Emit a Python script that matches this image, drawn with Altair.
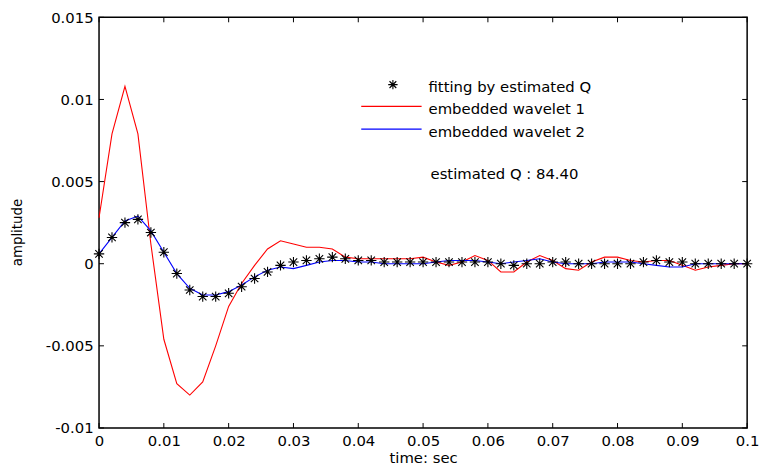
import altair as alt
import pandas as pd

# ---- data ----
time_s = [0.000, 0.002, 0.004, 0.006, 0.008, 0.010, 0.012, 0.014, 0.016, 0.018,
          0.020, 0.022, 0.024, 0.026, 0.028, 0.030, 0.032, 0.034, 0.036, 0.038,
          0.040, 0.042, 0.044, 0.046, 0.048, 0.050, 0.052, 0.054, 0.056, 0.058,
          0.060, 0.062, 0.064, 0.066, 0.068, 0.070, 0.072, 0.074, 0.076, 0.078,
          0.080, 0.082, 0.084, 0.086, 0.088, 0.090, 0.092, 0.094, 0.096, 0.098,
          0.100]

wavelet1 = [0.0028, 0.0079, 0.0108, 0.0079, 0.0012, -0.0046, -0.0073, -0.0080, -0.0072, -0.0050,
            -0.0026, -0.0012, -0.0001, 0.0009, 0.0014, 0.0012, 0.0010, 0.0010, 0.0009, 0.0004,
            0.0003, 0.0003, 0.0003, 0.0003, 0.0003, 0.0004, 0.0001, -0.0001, 0.0001, 0.0005,
            0.0002, -0.0005, -0.0005, 0.0001, 0.0005, 0.0002, -0.0003, -0.0004, 0.0001, 0.0004,
            0.0004, 0.0002, 0.0001, 0.0002, 0.0002, -0.0001, -0.0004, -0.0002, -0.0001, 0.0000,
            0.0000]

wavelet2 = [0.0006, 0.0016, 0.0026, 0.0029, 0.0020, 0.0007, -0.0006, -0.0015, -0.0019, -0.0019,
            -0.0017, -0.0013, -0.0008, -0.0004, -0.0002, -0.0003, -0.0001, 0.0001, 0.0002, 0.0002,
            0.0001, 0.0001, 0.0000, 0.0000, 0.0000, 0.0000, 0.0001, 0.0002, 0.0002, 0.0002,
            0.0001, 0.0000, 0.0001, 0.0002, 0.0003, 0.0001, 0.0000, 0.0000, 0.0000, 0.0001,
            0.0001, 0.0001, 0.0000, -0.0001, -0.0002, -0.0002, 0.0000, 0.0000, 0.0000, 0.0000,
            0.0000]

fitting = [0.0006, 0.0016, 0.0025, 0.0027, 0.0019, 0.0007, -0.0006, -0.0016, -0.0020, -0.0020,
           -0.0018, -0.0014, -0.0009, -0.0005, -0.0001, 0.0001, 0.0002, 0.0003, 0.0004, 0.0003,
           0.0002, 0.0002, 0.0001, 0.0001, 0.0001, 0.0001, 0.0001, 0.0001, 0.0001, 0.0001,
           0.0001, 0.0000, -0.0001, 0.0000, 0.0000, 0.0001, 0.0001, 0.0000, 0.0000, 0.0000,
           0.0000, 0.0000, 0.0001, 0.0002, 0.0001, 0.0001, 0.0000, 0.0000, 0.0000, 0.0000,
           0.0000]

x_ticks = [0, 0.01, 0.02, 0.03, 0.04, 0.05, 0.06, 0.07, 0.08, 0.09, 0.1]
y_ticks = [-0.01, -0.005, 0, 0.005, 0.01, 0.015]

legend_labels = ["fitting by estimated Q", "embedded wavelet 1", "embedded wavelet 2"]
q_text = "estimated Q : 84.40"

# ---- layout ----
W, H = 655, 415
FONT = "DejaVu Sans"
STAR = "M-1,0L1,0M0,-1L0,1M-0.72,-0.72L0.72,0.72M-0.72,0.72L0.72,-0.72"

df = pd.DataFrame({"t": time_s, "w1": wavelet1, "w2": wavelet2, "fit": fitting})
xs = alt.Scale(domain=[0, 0.1], nice=False, zero=False)
ys = alt.Scale(domain=[-0.01, 0.015], nice=False, zero=False)

base = alt.Chart(df)

red = base.mark_line(color="#ff0000", strokeWidth=1.1).encode(
    x=alt.X("t:Q", scale=xs, axis=alt.Axis(
        values=x_ticks, labelExpr="'' + datum.value", ticks=False, domain=False, grid=False,
        labelFont=FONT, labelFontSize=15, labelColor="black", labelPadding=6,
        title="time: sec", titleFont=FONT, titleFontSize=15, titleFontWeight="normal",
        titleColor="black", titlePadding=2, labelFlush=False)),
    y=alt.Y("w1:Q", scale=ys, axis=alt.Axis(
        values=y_ticks, labelExpr="'' + datum.value", ticks=False, domain=False, grid=False,
        labelFont=FONT, labelFontSize=15, labelColor="black", labelPadding=6,
        title="amplitude", titleFont=FONT, titleFontSize=13.5, titleFontWeight="normal",
        titleColor="black", titleX=-82, titleY=217, titleAngle=-90,
        titleAlign="center", titleBaseline="middle", labelFlush=False)),
)

blue = base.mark_line(color="#0000ff", strokeWidth=1.1).encode(
    x=alt.X("t:Q", scale=xs), y=alt.Y("w2:Q", scale=ys))

stars = base.mark_point(shape=STAR, size=110, color="black", strokeWidth=1.1, filled=False, opacity=1).encode(
    x=alt.X("t:Q", scale=xs), y=alt.Y("fit:Q", scale=ys))

# inward tick marks on all four sides
xt = alt.Chart(pd.DataFrame({"v": x_ticks}))
yt = alt.Chart(pd.DataFrame({"v": y_ticks}))
tick_style = dict(color="black", strokeWidth=1)
xb = xt.mark_rule(**tick_style).encode(x=alt.X("v:Q", scale=xs), y=alt.value(H), y2=alt.value(H - 5))
xtop = xt.mark_rule(**tick_style).encode(x=alt.X("v:Q", scale=xs), y=alt.value(0), y2=alt.value(5))
yl = yt.mark_rule(**tick_style).encode(y=alt.Y("v:Q", scale=ys), x=alt.value(0), x2=alt.value(5))
yr = yt.mark_rule(**tick_style).encode(y=alt.Y("v:Q", scale=ys), x=alt.value(W), x2=alt.value(W - 5))

# legend (drawn in the plot area, no box)
one = alt.Chart(pd.DataFrame({"a": [0]}))
leg_star = one.mark_point(shape=STAR, size=90, color="black", strokeWidth=1.1, filled=False, opacity=1).encode(
    x=alt.value(297), y=alt.value(68))
leg_red = one.mark_rule(color="#ff0000", strokeWidth=1.1).encode(x=alt.value(265), x2=alt.value(326), y=alt.value(90))
leg_blue = one.mark_rule(color="#0000ff", strokeWidth=1.1).encode(x=alt.value(265), x2=alt.value(326), y=alt.value(113))
txt = dict(font=FONT, fontSize=15, color="black", align="left", baseline="middle")
t1 = one.mark_text(text=legend_labels[0], **txt).encode(x=alt.value(333), y=alt.value(70))
t2 = one.mark_text(text=legend_labels[1], **txt).encode(x=alt.value(333), y=alt.value(93))
t3 = one.mark_text(text=legend_labels[2], **txt).encode(x=alt.value(333), y=alt.value(116))
t4 = one.mark_text(text=q_text, **txt).encode(x=alt.value(335), y=alt.value(158))

chart = alt.layer(
    red, blue, stars, xb, xtop, yl, yr,
    leg_star, leg_red, leg_blue, t1, t2, t3, t4
).properties(
    width=W, height=H,
    autosize="none",
    padding={"left": 92, "top": 7, "right": 13, "bottom": 36},
    background="white",
).configure_view(stroke="black", strokeWidth=1.5)

chart.save("out.html", embed_options={"renderer": "svg", "actions": False})
